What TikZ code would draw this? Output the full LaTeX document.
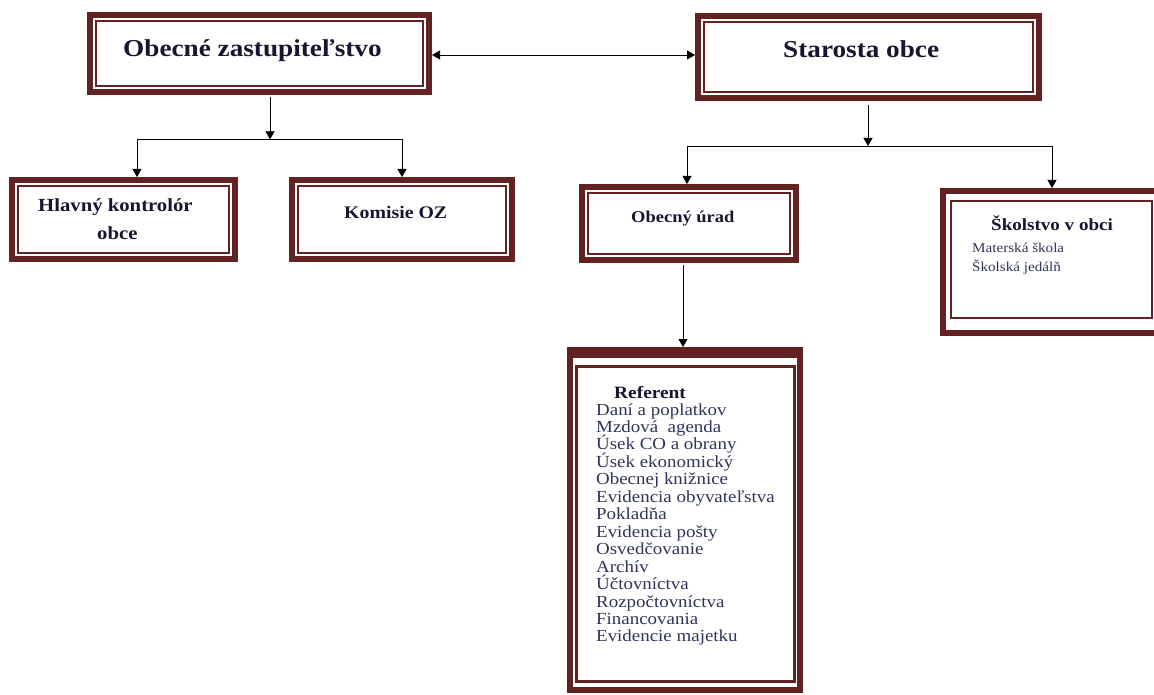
\documentclass[tikz,border=0pt]{standalone}
\usepackage{fontspec}
\setmainfont[FakeStretch=1.12]{Liberation Serif}
\usetikzlibrary{arrows.meta}
\definecolor{bord}{RGB}{98,34,34}
\definecolor{ttlc}{RGB}{22,22,48}
\definecolor{txtc}{RGB}{48,52,92}
\begin{document}
\begin{tikzpicture}[x=1pt,y=-1pt,
  box/.style={draw=bord, line width=6pt, inner sep=0pt, rectangle, fill=white},
  innerline/.style={draw=bord, line width=1.3pt},
  ttl/.style={text=ttlc, inner sep=0pt, anchor=base west},
  lst/.style={text=txtc, inner sep=0pt, anchor=base west},
  conn/.style={draw=black, line width=0.9pt},
  arr/.style={conn, -{Triangle[length=8pt,width=9pt]}},
  darr/.style={conn, {Triangle[length=8pt,width=9pt]}-{Triangle[length=8pt,width=9pt]}}]
\useasboundingbox (0,0) rectangle (1154,695);
\fill[white] (0,0) rectangle (1154,695);
% boxes
\node[box, minimum width=339pt, minimum height=77pt] (b1) at (259.5,53.5) {};
\node[box, minimum width=341pt, minimum height=82pt] (b2) at (868.5,57) {};
\node[box, minimum width=223pt, minimum height=79pt] (b3) at (123.5,219.5) {};
\node[box, minimum width=220pt, minimum height=79pt] (b4) at (402,219.5) {};
\node[box, minimum width=214pt, minimum height=73pt] (b5) at (689,223.5) {};
\node[box, minimum width=217pt, minimum height=142pt] (b6) at (1051.5,262) {};
\node[box, minimum width=230pt, minimum height=340pt] (b7) at (685,520) {};
% inner lines
\foreach \n in {b1,b2,b3,b4,b5}
  \draw[innerline] ([xshift=9pt,yshift=-9pt]\n.north west) rectangle ([xshift=-9pt,yshift=9pt]\n.south east);
\draw[innerline] ([xshift=11pt,yshift=-13pt]b6.north west) rectangle ([xshift=-11pt,yshift=18pt]b6.south east);
\fill[bord] (b7.north west) rectangle ([yshift=-11pt]b7.north east);
\draw[bord, line width=3pt] ([xshift=9.5pt,yshift=-19pt]b7.north west) rectangle ([xshift=-9pt,yshift=12pt]b7.south east);
% connectors
\coordinate (m) at (0,55);
\draw[darr] (b1.east |- m) -- (b2.west |- m);
\coordinate (j1) at (270,139.3);
\coordinate (l1) at (137,139.3);
\coordinate (r1) at (402,139.3);
\draw[arr] ([yshift=-2pt]b1.south -| j1) -- (j1);
\draw[conn] (l1) -- (r1);
\draw[arr] (l1) -- (l1 |- b3.north);
\draw[arr] (r1) -- (r1 |- b4.north);
\coordinate (j2) at (868,146);
\coordinate (l2) at (687,146);
\coordinate (r2) at (1052,146);
\draw[arr] ([yshift=-4pt]b2.south -| j2) -- (j2);
\draw[conn] (l2) -- (r2);
\draw[arr] (l2) -- (l2 |- b5.north);
\draw[arr] (r2) -- (r2 |- b6.north);
\coordinate (k) at (683,265);
\draw[arr] (k) -- (k |- b7.north);
% texts
\node[ttl, font=\fontsize{24.3}{28}\selectfont\bfseries] (t1) at (123,57) {Obecné zastupiteľstvo};
\node[ttl, font=\fontsize{24.3}{28}\selectfont\bfseries] (t2) at (783,58) {Starosta obce};
\node[ttl, font=\fontsize{18.5}{22}\selectfont\bfseries] (t3a) at (38,212) {Hlavný kontrolór};
\node[ttl, font=\fontsize{18.5}{22}\selectfont\bfseries] (t3b) at (97,240) {obce};
\node[ttl, font=\fontsize{17.7}{21}\selectfont\bfseries] (t4) at (344,219) {Komisie OZ};
\node[ttl, font=\fontsize{16.5}{20}\selectfont\bfseries] (t5) at (631,223) {Obecný úrad};
\node[ttl, font=\fontsize{17}{20}\selectfont\bfseries] (t6) at (991,230) {Školstvo v obci};
\node[lst, font=\fontsize{13.5}{16}\selectfont] (t6a) at (972,253) {Materská škola};
\node[lst, font=\fontsize{13.5}{16}\selectfont] (t6b) at (972,271) {Školská jedálň};
\node[ttl, font=\fontsize{17.3}{20}\selectfont\bfseries] (t7) at (614,398) {Referent};
\foreach \t [count=\i] in {Daní a poplatkov, Mzdová~ agenda, Úsek CO a obrany, Úsek ekonomický, Obecnej knižnice, Evidencia obyvateľstva, Pokladňa, Evidencia pošty, Osvedčovanie, Archív, Účtovníctva, Rozpočtovníctva, Financovania, Evidencie majetku}
  \node[lst, font=\fontsize{16.9}{20}\selectfont] (r\i) at (596,{415+17.46*(\i-1)}) {\t};
\end{tikzpicture}
\end{document}
